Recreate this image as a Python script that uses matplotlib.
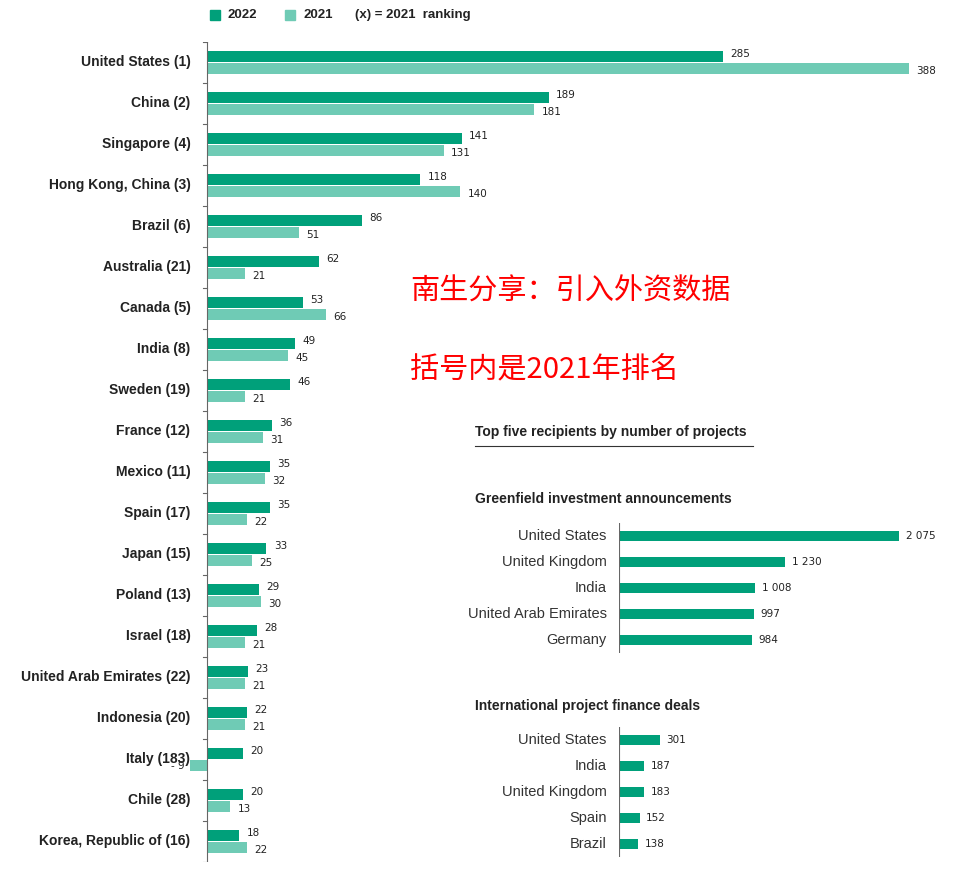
import matplotlib
matplotlib.use("Agg")
import matplotlib.pyplot as plt

countries = ["United States (1)","China (2)","Singapore (4)","Hong Kong, China (3)","Brazil (6)",
             "Australia (21)","Canada (5)","India (8)","Sweden (19)","France (12)","Mexico (11)",
             "Spain (17)","Japan (15)","Poland (13)","Israel (18)","United Arab Emirates (22)",
             "Indonesia (20)","Italy (183)","Chile (28)","Korea, Republic of (16)"]
v2022 = [285,189,141,118,86,62,53,49,46,36,35,35,33,29,28,23,22,20,20,18]
v2021 = [388,181,131,140,51,21,66,45,21,31,32,22,25,30,21,21,21,-9,13,22]

green_names = ["United States","United Kingdom","India","United Arab Emirates","Germany"]
green_vals = [2075,1230,1008,997,984]
fin_names = ["United States","India","United Kingdom","Spain","Brazil"]
fin_vals = [301,187,183,152,138]

C22 = "#00a07a"; C21 = "#6fcbb5"
W, H = 960, 890
fam = ["Liberation Sans Narrow", "Liberation Sans", "DejaVu Sans"]
fig = plt.figure(figsize=(9.6, 8.9), dpi=100)

def fx(px): return px / W
def fy(py): return 1 - py / H

def fmt(v):
    s = f"{abs(v):,}".replace(",", " ")
    return ("- " + s) if v < 0 else s

ax = fig.add_axes([fx(185), fy(862), fx(931) - fx(185), (862 - 42) / H])
n = len(countries)
y = list(range(n))
ax.barh([i - 0.14 for i in y], v2022, height=0.27, color=C22)
ax.barh([i + 0.14 for i in y], v2021, height=0.27, color=C21)
ax.set_xlim(-12, 400); ax.set_ylim(n - 0.5, -0.5)
for i in y:
    ax.text(v2022[i] + 4, i - 0.2, fmt(v2022[i]), fontsize=7.5, va="center", ha="left", color="#222")
    v = v2021[i]
    if v >= 0:
        ax.text(v + 4, i + 0.2, fmt(v), fontsize=7.5, va="center", ha="left", color="#222")
    else:
        ax.text(v - 3, i + 0.16, fmt(v), fontsize=7.5, va="center", ha="right", color="#222")
ax.axvline(0, color="#666", lw=0.8)
for i in range(n + 1):
    ax.plot([-2, 0], [i - 0.5, i - 0.5], color="#666", lw=0.8)
for s in ax.spines.values(): s.set_visible(False)
ax.set_xticks([]); ax.set_yticks([])
for i, c in enumerate(countries):
    ax.text(-9, i, c, ha="right", va="center", fontsize=10, fontweight="bold",
            family=fam, color="#222")

for x0, col, lab in [(210, C22, "2022"), (285, C21, "2021")]:
    fig.patches.append(plt.Rectangle((fx(x0), fy(20)), 10 / W, 10 / H, color=col, transform=fig.transFigure))
    fig.text(fx(x0 + 18), fy(15), lab, fontsize=9.5, fontweight="bold", va="center", family=fam, color="#222")
fig.text(fx(355), fy(15), "(x) = 2021  ranking", fontsize=9.5, fontweight="bold", va="center", family=fam, color="#222")

cjk = ["Noto Sans CJK SC", "DejaVu Sans"]
fig.text(fx(410), fy(292), "南生分享：引入外资数据", fontsize=21, color="#ff0000", va="center", family=cjk)
fig.text(fx(410), fy(369), "括号内是2021年排名", fontsize=21, color="#ff0000", va="center", family=cjk)

fig.text(fx(475), fy(432), "Top five recipients by number of projects", fontsize=10, fontweight="bold",
         va="center", family=fam, color="#222")
fig.add_artist(plt.Line2D([fx(475), fx(753)], [fy(446), fy(446)], color="#333", lw=0.8))
fig.text(fx(475), fy(499), "Greenfield investment announcements", fontsize=10, fontweight="bold",
         va="center", family=fam, color="#222")
fig.text(fx(475), fy(706), "International project finance deals", fontsize=10, fontweight="bold",
         va="center", family=fam, color="#222")

def inset(top, names, vals):
    a = fig.add_axes([fx(619), fy(top + 5 * 26), (2300 * 0.135) / W, 5 * 26 / H])
    a.barh(range(5), vals, height=0.4, color=C22)
    a.set_xlim(0, 2300); a.set_ylim(4.5, -0.5)
    a.axvline(0, color="#666", lw=0.8)
    for i, (nm, v) in enumerate(zip(names, vals)):
        a.text(v + 50, i, fmt(v), fontsize=7.5, va="center", color="#222")
        a.text(-90, i, nm, fontsize=10.5, va="center", ha="right", family=fam, color="#333")
    for s in a.spines.values(): s.set_visible(False)
    a.set_xticks([]); a.set_yticks([])

inset(523, green_names, green_vals)
inset(727, fin_names, fin_vals)

fig.savefig("out.png", dpi=100, facecolor="white")
